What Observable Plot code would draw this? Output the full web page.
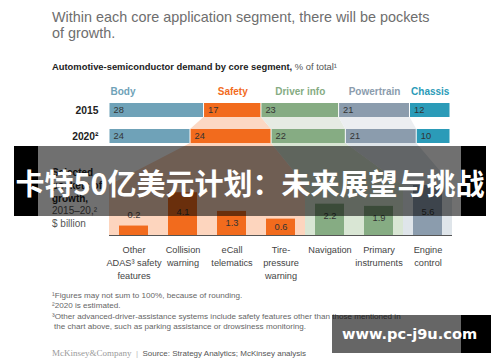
<!DOCTYPE html>
<html><head><meta charset="utf-8">
<script src="https://cdn.jsdelivr.net/npm/d3@7"></script>
<script src="https://cdn.jsdelivr.net/npm/@observablehq/plot@0.6"></script>
<style>
body{margin:0;background:#fff;}
#root{position:relative;width:500px;height:362px;overflow:hidden;font-family:"Liberation Sans",Arial,sans-serif;background:#fff;}
.abs{position:absolute;white-space:nowrap;}
#title{left:52px;top:9px;font-size:14.4px;line-height:16px;color:#6e6e6e;}
#subtitle{left:52px;top:61px;font-size:9.4px;line-height:12px;color:#222;}
#top{left:0;top:85px;}
#bottom{left:0;top:143px;}
#side{left:52px;top:167px;font-size:10px;line-height:12.75px;color:#555;}
#notes{left:52px;top:291px;font-size:8.1px;line-height:10.3px;color:#666;}
#source{left:52px;top:347px;font-size:8px;line-height:12px;color:#555;}
#banner{left:14px;top:146px;width:472px;height:70px;}
#wm{left:332px;top:315px;width:159px;height:38px;}
</style></head><body>
<div id="root">
  <div id="title" class="abs">Within each core application segment, there will be pockets<br>of growth.</div>
  <div id="subtitle" class="abs"><b>Automotive-semiconductor demand by core segment,</b> <span style="color:#555">% of total¹</span></div>
  <div id="top" class="abs"></div>
  <div id="bottom" class="abs"></div>
  <div id="side" class="abs"><b style="color:#222">Selected<br>pockets of<br>growth,</b><br>2015–20,²<br>$ billion</div>
  <div id="notes" class="abs">¹Figures may not sum to 100%, because of rounding.<br>²2020 is estimated.<br>³Other advanced-driver-assistance systems include safety features other than those mentioned in<br><span style="padding-left:2px">the chart above, such as parking assistance or drowsiness monitoring.</span></div>
  <div id="source" class="abs"><span style="font-family:'Liberation Serif',serif;font-size:9px;color:#9a9a9a">McKinsey&amp;Company</span><span style="color:#bbb">&nbsp;&nbsp;|&nbsp;&nbsp;</span>Source: Strategy Analytics; McKinsey analysis</div>
  <div id="banner" class="abs">
    <div class="abs" style="left:0;top:0;width:24px;height:70px;background:#000"></div>
    <div class="abs" style="left:24px;top:0;width:423px;height:70px;background:rgba(0,0,0,0.56)"></div>
    <div class="abs" style="left:447px;top:0;width:25px;height:70px;background:#000"></div>
    <div class="abs" style="left:0;top:0;width:472px;height:70px;line-height:72px;text-align:center;color:#fff;font-family:'Noto Sans CJK SC',sans-serif;font-weight:bold;font-size:29px;">卡特50亿美元计划：未来展望与挑战</div>
  </div>
  <div id="wm" class="abs">
    <div class="abs" style="left:0;top:0;width:129px;height:38px;background:rgba(0,0,0,0.6)"></div>
    <div class="abs" style="left:129px;top:0;width:30px;height:38px;background:#000"></div>
    <div class="abs" style="left:10px;top:0;height:38px;line-height:38px;color:#fff;font-family:'DejaVu Sans',sans-serif;font-weight:bold;font-size:14.6px;">www.pc-j9u.com</div>
  </div>
</div>
<script>
// ---- data ----
const segments = ["Body", "Safety", "Driver info", "Powertrain", "Chassis"];
const years = ["2015", "2020"];
const share2015 = [28, 17, 23, 21, 12];
const share2020 = [24, 24, 22, 21, 10];
const segColors = ["#6fa2b8", "#f26b1d", "#86ac83", "#8b9cad", "#2b9bb8"];
const linkColors = {"Safety": "#fcd8c3", "Driver info": "#e6ebe3", "Powertrain": "#eceef1"};
const panelColors = {"Safety": "#fdd5be", "Driver info": "#d9e6d4", "Powertrain": "#dfe5ea"};

const pockets = ["Other\nADAS³ safety\nfeatures", "Collision\nwarning", "eCall\ntelematics", "Tire-\npressure\nwarning", "Navigation", "Primary\ninstruments", "Engine\ncontrol"];
const growth = [0.2, 4.1, 1.3, 0.6, 2.2, 1.9, 5.6];
const pocketSegment = ["Safety", "Safety", "Safety", "Safety", "Driver info", "Driver info", "Powertrain"];

const FONT = "'Liberation Sans', Arial, sans-serif";

// stacked rows
const rows = years.flatMap((year, yi) => {
  const vals = yi === 0 ? share2015 : share2020;
  let acc = 0;
  return segments.map((segment, i) => {
    const x1 = acc; acc += vals[i];
    return {year, segment, value: vals[i], x1, x2: acc};
  });
});
const rowOf = (year, seg) => rows.find(d => d.year === year && d.segment === seg);

// connectors between 2015 and 2020
function connectors(index, scales) {
  const {x, y} = scales;
  const bw = typeof y.bandwidth === "function" ? y.bandwidth() : y.bandwidth;
  const y0 = y("2015") + bw, y1 = y("2020");
  const g = d3.create("svg:g");
  for (const seg of Object.keys(linkColors)) {
    const a = rowOf("2015", seg), b = rowOf("2020", seg);
    const pts = [[x(a.x1), y0], [x(a.x2), y0], [x(b.x2), y1], [x(b.x1), y1]];
    g.append("polygon").attr("points", pts.map(p => p.join(",")).join(" ")).attr("fill", linkColors[seg]);
  }
  return g.node();
}

const topChart = Plot.plot({
  width: 500, height: 58,
  marginLeft: 109, marginRight: 50, marginTop: 17, marginBottom: 0,
  x: {domain: [0, 101], axis: null},
  y: {domain: years, paddingInner: 0.48, paddingOuter: 0, label: null},
  color: {domain: segments, range: segColors},
  style: {fontFamily: FONT, overflow: "visible", background: "transparent"},
  marks: [
    connectors,
    Plot.barX(rows, {x1: "x1", x2: "x2", y: "year", fill: "segment", insetLeft: 0.5, insetRight: 0.5}),
    Plot.text(rows, {x: "x1", y: "year", text: d => String(d.value), textAnchor: "start", dx: 4, fontSize: 9.3, fill: "#333"}),
    Plot.text(rows.filter(d => d.year === "2015" && d.segment === "Body"),
      {x: "x1", text: "segment", frameAnchor: "top", lineAnchor: "middle", dy: -11, dx: 1, textAnchor: "start", fill: "segment", fontWeight: "bold", fontSize: 10}),
    Plot.text(rows.filter(d => d.year === "2015" && d.segment !== "Body"),
      {x: d => (d.x1 + d.x2) / 2, text: "segment", frameAnchor: "top", lineAnchor: "middle", dy: -11, fill: "segment", fontWeight: "bold", fontSize: 10}),
    Plot.axisY({tickSize: 0, tickPadding: 11, fontSize: 10.3, fontWeight: "bold", fill: "#222", tickFormat: d => d === "2020" ? "2020²" : d})
  ]
});
document.getElementById("top").appendChild(topChart);
const topX = topChart.scale("x");

const pocketData = pockets.map((name, i) => ({name, value: growth[i], segment: pocketSegment[i]}));

function panels(index, scales, values, dims) {
  const {x, y} = scales;
  const bw = typeof x.bandwidth === "function" ? x.bandwidth() : x.bandwidth;
  const step = x(pockets[1]) - x(pockets[0]);
  const pad = (step - bw) / 2;
  const base = y(0), top = dims.marginTop;
  const g = d3.create("svg:g");
  for (const seg of Object.keys(panelColors)) {
    const members = pocketData.filter(d => d.segment === seg);
    const left = x(members[0].name) - pad;
    const right = x(members[members.length - 1].name) + bw + pad;
    const r = rowOf("2020", seg);
    const pts = [[topX.apply(r.x1), 0], [topX.apply(r.x2), 0], [right, top], [right, base], [left, base], [left, top]];
    g.append("polygon").attr("points", pts.map(p => p.join(",")).join(" ")).attr("fill", panelColors[seg]);
  }
  return g.node();
}

const bottomChart = Plot.plot({
  width: 500, height: 147,
  marginLeft: 109, marginRight: 48, marginTop: 42, marginBottom: 55,
  x: {domain: pockets, paddingInner: 0.4, paddingOuter: 0.2, label: null},
  y: {type: "sqrt", domain: [0, 5.6], axis: null},
  color: {domain: segments, range: segColors},
  style: {fontFamily: FONT, overflow: "visible", background: "transparent"},
  marks: [
    panels,
    Plot.barY(pocketData, {x: "name", y: "value", fill: "segment"}),
    Plot.ruleY([0], {stroke: "#555", strokeWidth: 1}),
    Plot.text(pocketData.filter(d => d.value >= 1), {x: "name", y: d => Math.min(d.value, 2.9), text: d => d.value.toFixed(1), dy: 12, fontSize: 9.3, fill: "#333"}),
    Plot.text(pocketData.filter(d => d.value >= 0.5 && d.value < 1), {x: "name", y: "value", text: d => d.value.toFixed(1), dy: 8, fontSize: 9.3, fill: "#333"}),
    Plot.text(pocketData.filter(d => d.value < 0.5), {x: "name", y: "value", text: d => d.value.toFixed(1), dy: -11, fontSize: 9.3, fill: "#444"}),
    Plot.axisX({tickSize: 0, tickPadding: 8, fontSize: 9.2, lineHeight: 1.41, fill: "#444", tickFormat: d => d})
  ]
});
document.getElementById("bottom").appendChild(bottomChart);
</script>
</body></html>
